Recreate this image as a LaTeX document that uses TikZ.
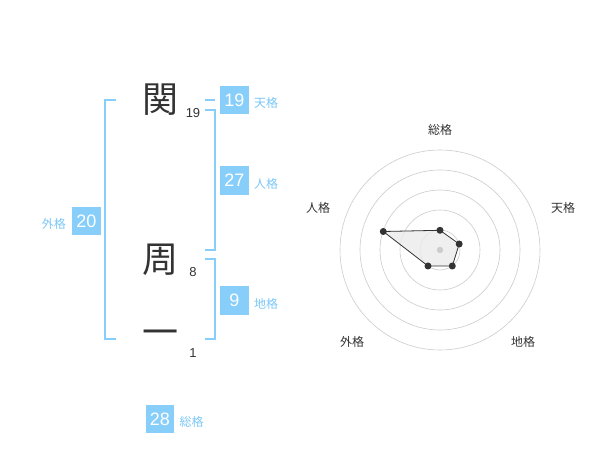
\documentclass[tikz,border=0pt]{standalone}
\usepackage{fontspec}
\setmainfont{Liberation Sans}
\newfontfamily\jp{Noto Sans CJK JP}
\definecolor{boxblue}{HTML}{87CEFA}
\definecolor{lblblue}{HTML}{7CC8F8}
\definecolor{darktext}{HTML}{333333}
\definecolor{ringgray}{HTML}{CCCCCC}
\begin{document}
\begin{tikzpicture}[x=1pt,y=-1pt,
  numbox/.style={fill=boxblue,text=white,minimum size=28.5pt,inner sep=0pt,font=\fontsize{18}{18}\selectfont},
  lbl/.style={text=lblblue,inner sep=0pt,font=\jp\fontsize{12}{12}\selectfont},
  kanji/.style={text=darktext,inner sep=0pt,font=\jp\fontsize{36}{36}\selectfont},
  strokecount/.style={text=darktext,inner sep=0pt,font=\fontsize{13}{13}\selectfont},
  bracketline/.style={draw=boxblue,line width=1.5pt},
  ring/.style={draw=ringgray,line width=0.6pt},
  axislbl/.style={text=darktext,inner sep=0pt,font=\jp\fontsize{12}{12}\selectfont},
  dot/.style={circle,fill=darktext,inner sep=0pt,minimum size=7pt}]
\useasboundingbox[fill=white] (0,0) rectangle (600,470);

% characters
\node[kanji] (k1) at (160,100) {関};
\node[kanji] (k2) at (160,260) {周};
\node[kanji] (k3) at (160,338) {一};
\node[strokecount] (s1) at (193,113) {19};
\node[strokecount] (s2) at (193,272) {8};
\node[strokecount] (s3) at (193,353) {1};

% brackets
\draw[bracketline] (116,100) -- (105,100) -- (105,339) -- (116,339);
\draw[bracketline] (205,100) -- (215,100);
\draw[bracketline] (205,110) -- (215,110) -- (215,250) -- (205,250);
\draw[bracketline] (205,259) -- (215,259) -- (215,339) -- (205,339);

% boxes
\node[numbox] (gai) at (86.5,221) {20};
\node[lbl,anchor=east] (gail) at (66,224) {外格};
\node[numbox] (ten) at (234.5,100) {19};
\node[lbl,anchor=west] (tenl) at (254,103) {天格};
\node[numbox] (jin) at (234.5,180.5) {27};
\node[lbl,anchor=west] (jinl) at (254,184) {人格};
\node[numbox] (chi) at (234.5,300.5) {9};
\node[lbl,anchor=west] (chil) at (254,304) {地格};
\node[numbox] (sou) at (160,419) {28};
\node[lbl,anchor=west] (soul) at (179.5,422) {総格};

% radar
\coordinate (c) at (440,250);
\foreach \r in {20,40,60,80,100} \draw[ring] (c) circle[radius=\r];
\coordinate (p1) at (440,230.3);
\coordinate (p2) at (459.2,244);
\coordinate (p3) at (452.3,266);
\coordinate (p4) at (428,266);
\coordinate (p5) at (383.3,231.5);
\fill[black!8,opacity=0.8] (p1) -- (p2) -- (p3) -- (p4) -- (p5) -- cycle;
\draw[darktext,line width=0.8pt] (p1) -- (p2) -- (p3) -- (p4) -- (p5) -- cycle;
\fill[ringgray] (c) circle[radius=3.2];
\foreach \p in {p1,p2,p3,p4,p5} \node[dot] at (\p) {};
\node[axislbl] (a1) at (440,130) {総格};
\node[axislbl] (a2) at (563,208) {天格};
\node[axislbl] (a3) at (523,342) {地格};
\node[axislbl] (a4) at (352,342) {外格};
\node[axislbl] (a5) at (318,208) {人格};
\end{tikzpicture}
\end{document}
